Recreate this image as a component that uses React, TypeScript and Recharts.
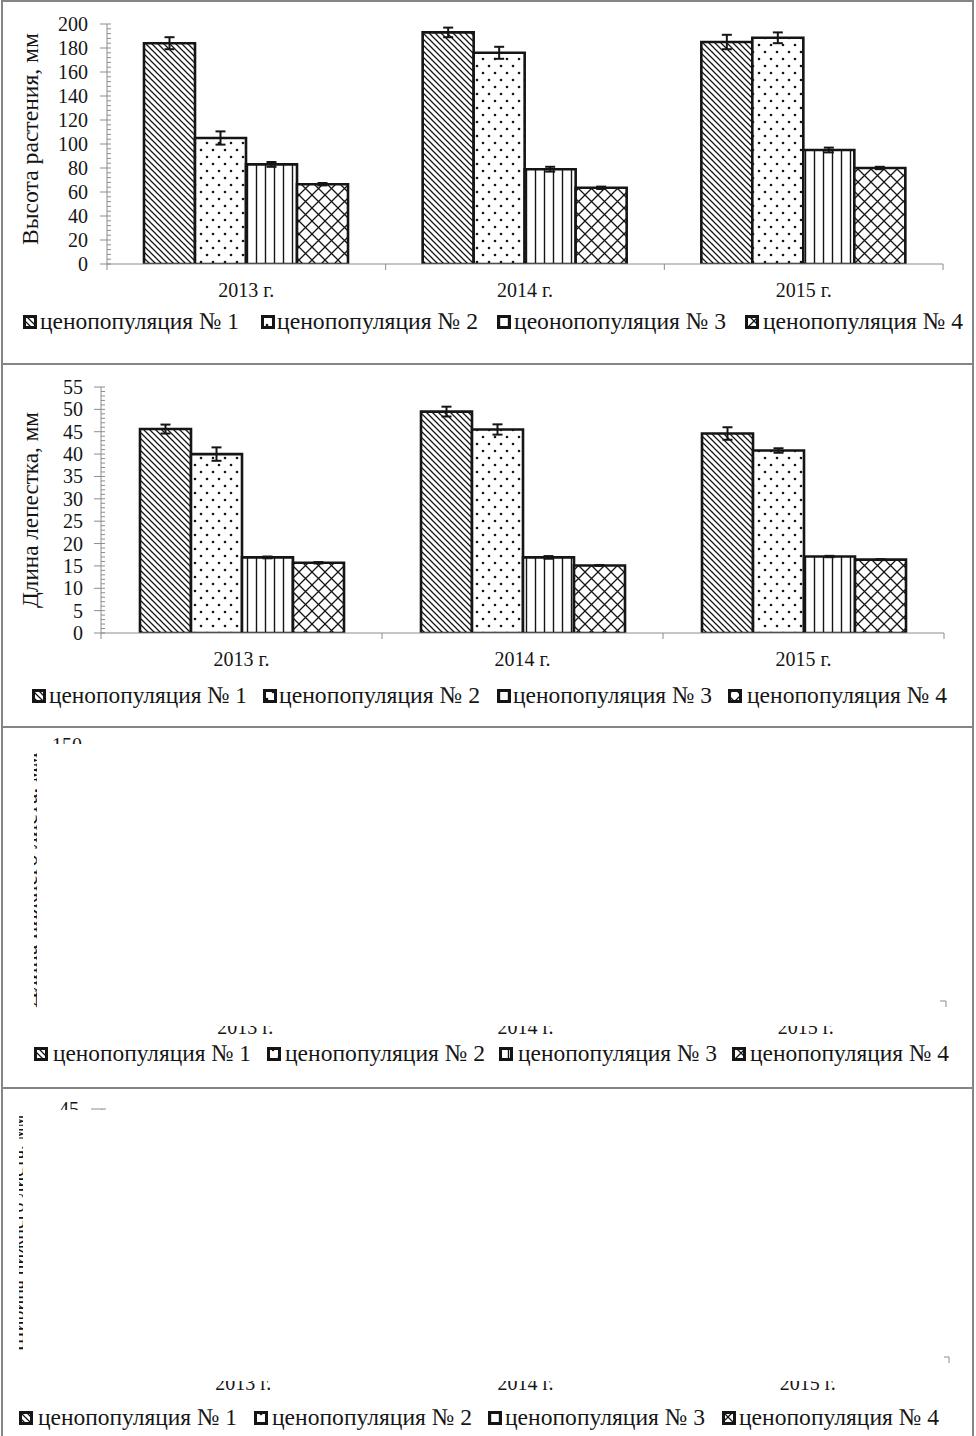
import React from 'react';
import { BarChart, Bar, XAxis, YAxis, ErrorBar, Legend } from 'recharts';

// ---------- categories & legend names ----------
const years = ['2013 г.', '2014 г.', '2015 г.'];
const legendNamesTop = ['ценопопуляция № 1', 'ценопопуляция № 2', 'цеонопопуляция № 3', 'ценопопуляция № 4'];
const legendNames = ['ценопопуляция № 1', 'ценопопуляция № 2', 'ценопопуляция № 3', 'ценопопуляция № 4'];

// ---------- axis titles ----------
const titlePlantHeight = 'Высота растения, мм';
const titlePetal = 'Длина лепестка, мм';
const titleLeafLength = 'Длина нижнего листа, мм';
const titleLeafWidth = 'Ширина нижнего листа, мм';

// ---------- panel 1: plant height (mm) ----------
const plantHeightPop1 = [184, 193, 185];
const plantHeightPop2 = [105, 176, 188.5];
const plantHeightPop3 = [83, 79, 95];
const plantHeightPop4 = [66.5, 63.5, 80];
const plantHeightErr1 = [5, 4, 6];
const plantHeightErr2 = [5.5, 5, 4.5];
const plantHeightErr3 = [2, 2, 2];
const plantHeightErr4 = [1, 1, 1];

// ---------- panel 2: petal length (mm) ----------
const petalPop1 = [45.6, 49.5, 44.6];
const petalPop2 = [40.0, 45.5, 40.8];
const petalPop3 = [16.9, 16.9, 17.1];
const petalPop4 = [15.7, 15.1, 16.4];
const petalErr1 = [1.0, 1.1, 1.4];
const petalErr2 = [1.5, 1.15, 0.5];
const petalErr3 = [0.2, 0.3, 0.15];
const petalErr4 = [0.15, 0.1, 0.1];

// ---------- tick labels ----------
const plantHeightTicks = [0, 20, 40, 60, 80, 100, 120, 140, 160, 180, 200];
const petalTicks = [0, 5, 10, 15, 20, 25, 30, 35, 40, 45, 50, 55];
const leafLengthTicks = [0, 50, 100, 150];
const leafWidthTicks = [0, 5, 10, 15, 20, 25, 30, 35, 40, 45];

// ---------- styles ----------
const FONT = '"Liberation Serif", "Times New Roman", Times, serif';
const TXT = { fontFamily: FONT };
const INK = '#151515';
const AXIS = '#8c8c8c';
const FRAME = '#858585';
const PATTERNS = ['pat-diag', 'pat-dots', 'pat-vert', 'pat-cross'];
const W = 976;

function withMinor(majors: number[], step: number) {
  const max = majors[majors.length - 1];
  const out: number[] = [];
  for (let v = 0; v <= max + 1e-9; v += step) out.push(Math.round(v * 1000) / 1000);
  return out;
}

function buildRows(vals: number[][], errs: number[][]) {
  return years.map((year, i) => {
    const row: any = { year };
    vals.forEach((s, k) => { row['v' + (k + 1)] = s[i]; });
    errs.forEach((s, k) => { row['e' + (k + 1)] = s[i]; });
    return row;
  });
}

const PatternDefs = () => (
  <svg width={0} height={0} style={{ position: 'absolute', left: 0, top: 0 }} aria-hidden="true">
    <defs>
      <pattern id="pat-diag" patternUnits="userSpaceOnUse" width={6} height={6}>
        <rect width={6} height={6} fill="#fff" />
        <path d="M-1,-1 L7,7 M-1,5 L1,7 M5,-1 L7,1" stroke={INK} strokeWidth={1.25} />
      </pattern>
      <pattern id="pat-dots" patternUnits="userSpaceOnUse" width={12} height={14}>
        <rect width={12} height={14} fill="#fff" />
        <circle cx={3} cy={3} r={1.3} fill={INK} />
        <circle cx={9} cy={10} r={1.3} fill={INK} />
      </pattern>
      <pattern id="pat-vert" patternUnits="userSpaceOnUse" width={9} height={9}>
        <rect width={9} height={9} fill="#fff" />
        <line x1={4.5} y1={0} x2={4.5} y2={9} stroke={INK} strokeWidth={1.4} />
      </pattern>
      <pattern id="pat-cross" patternUnits="userSpaceOnUse" width={13} height={13}>
        <rect width={13} height={13} fill="#fff" />
        <path d="M0,0 L13,13 M13,0 L0,13" stroke={INK} strokeWidth={1.3} />
      </pattern>
    </defs>
  </svg>
);

function makeXTick(band: number, count: number) {
  return (props: any) => {
    const { x, y, payload, index } = props;
    const half = band / 2;
    return (
      <g>
        <line x1={x - half} y1={y} x2={x - half} y2={y + 6} stroke={AXIS} strokeWidth={1} />
        {index === count - 1 && <line x1={x + half} y1={y} x2={x + half} y2={y + 6} stroke={AXIS} strokeWidth={1} />}
        <text x={x} y={y + 33} textAnchor="middle" style={TXT} fontSize={20} fill={INK}>{payload.value}</text>
      </g>
    );
  };
}

function makeYTick(majors: number[], labelGap: number, majorLeft: number) {
  const set = new Set(majors);
  return (props: any) => {
    const { x, y, payload } = props;
    const major = set.has(payload.value);
    return (
      <g>
        <line x1={major ? x - majorLeft : x} y1={y} x2={x + 4} y2={y} stroke={AXIS} strokeWidth={1} />
        {major && (
          <text x={x - labelGap} y={y + 7} textAnchor="end" style={TXT} fontSize={20} fill={INK}>{payload.value}</text>
        )}
      </g>
    );
  };
}

function makeYLabel(text: string, cx: number, cy: number, length: number, clip?: [number, number], id?: string) {
  return () => {
    const t = (
      <text x={cx} y={cy} transform={`rotate(-90 ${cx} ${cy})`} textAnchor="middle" dominantBaseline="central"
        textLength={length} lengthAdjust="spacingAndGlyphs" style={TXT} fontSize={24} fill={INK}>{text}</text>
    );
    if (!clip) return t;
    return (
      <g>
        <defs>
          <clipPath id={id}>
            <rect x={clip[0]} y={0} width={clip[1] - clip[0]} height={1000} />
          </clipPath>
        </defs>
        <g clipPath={`url(#${id})`}>{t}</g>
      </g>
    );
  };
}

function makeLegend(names: string[], icons: number[], texts: number[][]) {
  return () => (
    <svg width={W} height={30} style={{ display: 'block' }}>
      {names.map((n, i) => (
        <g key={n + i}>
          <rect x={icons[i] + 1.5} y={8.5} width={11} height={11} fill={`url(#${PATTERNS[i]})`} stroke={INK} strokeWidth={3} />
          <text x={texts[i][0]} y={21} textLength={texts[i][1] - texts[i][0]} lengthAdjust="spacingAndGlyphs"
            style={TXT} fontSize={24} fill={INK}>{n}</text>
        </g>
      ))}
    </svg>
  );
}

type PanelProps = {
  top: number;
  height: number;
  margin: { top: number; right: number; bottom: number; left: number };
  yWidth: number;
  rows: any[];
  seriesCount: number;
  domain: [number, number];
  ticks: number[];
  majors: number[];
  labelGap: number;
  majorLeft: number;
  yLabel: () => any;
  legendTop: number;
  legend: () => any;
};

function ChartPanel(p: PanelProps) {
  const plotW = W - p.margin.left - p.yWidth - p.margin.right;
  const band = plotW / years.length;
  const series = Array.from({ length: p.seriesCount }, (_, i) => i);
  return (
    <div style={{ position: 'absolute', left: 0, top: p.top, width: W, height: p.height }}>
      <BarChart width={W} height={p.height} data={p.rows} margin={p.margin} barGap={0} barSize={51}>
        <XAxis dataKey="year" height={30} interval={0} tickSize={0} tickMargin={0} tickLine={false}
          axisLine={{ stroke: AXIS, strokeWidth: 1 }} tick={makeXTick(band, years.length)} />
        <YAxis width={p.yWidth} type="number" domain={p.domain} ticks={p.ticks} interval={0} tickSize={0} tickMargin={0}
          tickLine={false} axisLine={{ stroke: AXIS, strokeWidth: 1 }} allowDataOverflow
          tick={makeYTick(p.majors, p.labelGap, p.majorLeft)} label={p.yLabel} />
        <Legend layout="horizontal" verticalAlign="middle" align="center" content={p.legend}
          wrapperStyle={{ top: p.legendTop, left: 0, width: W, height: 30, margin: 0 }} />
        {series.map((i) => (
          <Bar key={i} dataKey={`v${i + 1}`} name={legendNames[i]} fill={`url(#${PATTERNS[i]})`} stroke={INK}
            strokeWidth={2.6} isAnimationActive={false}>
            <ErrorBar dataKey={`e${i + 1}`} width={5} strokeWidth={2} stroke={INK} direction="y" isAnimationActive={false} />
          </Bar>
        ))}
      </BarChart>
    </div>
  );
}

const rowsHeight = buildRows(
  [plantHeightPop1, plantHeightPop2, plantHeightPop3, plantHeightPop4],
  [plantHeightErr1, plantHeightErr2, plantHeightErr3, plantHeightErr4]
);
const rowsPetal = buildRows(
  [petalPop1, petalPop2, petalPop3, petalPop4],
  [petalErr1, petalErr2, petalErr3, petalErr4]
);
const rowsEmpty = years.map((year) => ({ year }));

export default function App() {
  return (
    <div style={{ position: 'absolute', left: 0, top: 0, width: W, height: 1436, background: '#fff', overflow: 'hidden' }}>
      <PatternDefs />
      {/* frame */}
      <div style={{ position: 'absolute', left: 1, top: 0, width: 973, height: 1460, border: `2px solid ${FRAME}`, boxSizing: 'border-box' }} />
      {[363, 726, 1087].map((t) => (
        <div key={t} style={{ position: 'absolute', left: 1, top: t, width: 973, height: 2, background: FRAME }} />
      ))}

      <ChartPanel
        top={0} height={340} margin={{ top: 24, right: 33, bottom: 46, left: 0 }} yWidth={107}
        rows={rowsHeight} seriesCount={4} domain={[0, 200]} ticks={withMinor(plantHeightTicks, 4)} majors={plantHeightTicks}
        labelGap={19} majorLeft={7}
        yLabel={makeYLabel(titlePlantHeight, 29.5, 139, 212)}
        legendTop={308}
        legend={makeLegend(legendNamesTop, [23, 261, 497, 745], [[40, 239], [277, 478], [514, 726], [763, 963]])}
      />
      <ChartPanel
        top={364} height={360} margin={{ top: 23, right: 32, bottom: 61, left: 0 }} yWidth={101}
        rows={rowsPetal} seriesCount={4} domain={[0, 55]} ticks={withMinor(petalTicks, 1)} majors={petalTicks}
        labelGap={18} majorLeft={7}
        yLabel={makeYLabel(titlePetal, 30, 146, 196)}
        legendTop={318}
        legend={makeLegend(legendNames, [32, 263, 497, 728], [[49, 247], [279, 480], [513, 712], [747, 947]])}
      />
      <ChartPanel
        top={729} height={355} margin={{ top: 16, right: 30, bottom: 53, left: 0 }} yWidth={105}
        rows={rowsEmpty} seriesCount={0} domain={[0, 150]} ticks={leafLengthTicks} majors={leafLengthTicks}
        labelGap={23} majorLeft={11}
        yLabel={makeYLabel(titleLeafLength, 29, 151, 255, [34, 37], 'clip-ll')}
        legendTop={311}
        legend={makeLegend(legendNames, [34, 267, 499, 732], [[53, 251], [285, 485], [518, 717], [750, 949]])}
      />
      <ChartPanel
        top={1090} height={346} margin={{ top: 19, right: 27, bottom: 49, left: 0 }} yWidth={102}
        rows={rowsEmpty} seriesCount={0} domain={[0, 45]} ticks={leafWidthTicks} majors={leafWidthTicks}
        labelGap={23} majorLeft={11}
        yLabel={makeYLabel(titleLeafWidth, 16, 143, 237, [19, 23], 'clip-lw')}
        legendTop={314}
        legend={makeLegend(legendNames, [19, 254, 488, 722], [[38, 237], [272, 472], [505, 705], [739, 939]])}
      />

      {/* blank (unrendered) plot areas of panels 3 and 4 */}
      <div style={{ position: 'absolute', left: 37, top: 744, width: 903, height: 282, background: '#fff' }} />
      <div style={{ position: 'absolute', left: 23, top: 1110, width: 921, height: 271, background: '#fff' }} />
    </div>
  );
}
